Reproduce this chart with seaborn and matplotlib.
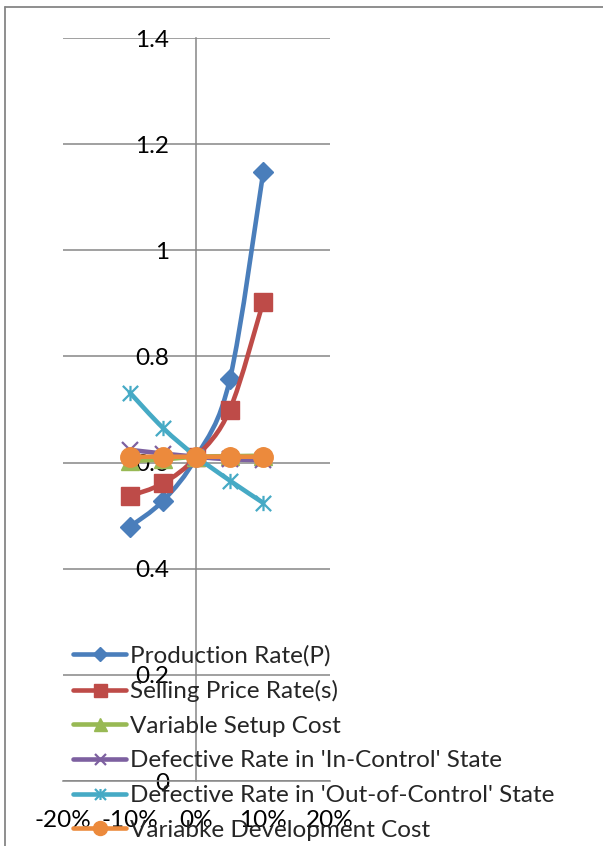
import numpy as np
import matplotlib
matplotlib.use("Agg")
import matplotlib.pyplot as plt
import seaborn as sns
from matplotlib.path import Path
from matplotlib.patches import PathPatch
from matplotlib.lines import Line2D

# Sensitivity of the objective to a change in each parameter
changes = [-0.10, -0.05, 0.0, 0.05, 0.10]
production_rate = [0.479, 0.528, 0.611, 0.757, 1.147]
selling_price = [0.537, 0.561, 0.611, 0.700, 0.903]
setup_cost = [0.603, 0.606, 0.611, 0.612, 0.613]
defect_in_control = [0.624, 0.617, 0.611, 0.606, 0.605]
defect_out_control = [0.732, 0.665, 0.611, 0.566, 0.524]
development_cost = [0.611, 0.611, 0.611, 0.611, 0.611]

series_names = [
    "Production Rate(P)",
    "Selling Price Rate(s)",
    "Variable Setup Cost",
    "Defective Rate in 'In-Control' State",
    "Defective Rate in 'Out-of-Control' State",
    "Variabke Development Cost",
]
series_values = [production_rate, selling_price, setup_cost,
                 defect_in_control, defect_out_control, development_cost]

x_ticks = [-0.20, -0.10, 0.0, 0.10, 0.20]
x_tick_labels = ["-20%", "-10%", "0%", "10%", "20%"]
y_ticks = [0, 0.2, 0.4, 0.6, 0.8, 1.0, 1.2, 1.4]
y_tick_labels = ["0", "0.2", "0.4", "0.6", "0.8", "1", "1.2", "1.4"]

# Excel-like styling
colors = ["#4A7EBB", "#BE4B48", "#98B954", "#7D60A0", "#46AAC5", "#EC8A3C"]
star = Path([(0, -1), (0, 1), (-1, -1), (1, 1), (-1, 1), (1, -1)],
            [Path.MOVETO, Path.LINETO, Path.MOVETO, Path.LINETO,
             Path.MOVETO, Path.LINETO])
markers = ["D", "s", "^", "x", star, "o"]
marker_sizes = [10.5, 13, 13, 11, 11, 14]
edge_widths = [1, 1, 1, 1.6, 1.6, 1]

GRID = "#868686"
FONT = "Lato"
FS = 17.5

sns.set_theme(style="white")
plt.rcParams["font.family"] = [FONT, "DejaVu Sans"]

W, H = 603, 846
fig = plt.figure(figsize=(W / 100, H / 100), dpi=100)
ax = fig.add_axes([63 / W, 1 - 781 / H, (330 - 63) / W, (781 - 38) / H])


def smooth_path(xs, ys):
    """Catmull-Rom style Bezier path through the points (Excel smoothed line)."""
    pts = np.column_stack([xs, ys]).astype(float)
    n = len(pts)
    verts = [pts[0]]
    codes = [Path.MOVETO]
    for i in range(n - 1):
        p0 = pts[max(i - 1, 0)]
        p1 = pts[i]
        p2 = pts[i + 1]
        p3 = pts[min(i + 2, n - 1)]
        verts += [p1 + (p2 - p0) / 6, p2 - (p3 - p1) / 6, p2]
        codes += [Path.CURVE4] * 3
    return Path(verts, codes)


handles = []
for k, (name, vals) in enumerate(zip(series_names, series_values)):
    c = colors[k]
    ax.add_patch(PathPatch(smooth_path(changes, vals), fill=False, edgecolor=c,
                           lw=3.3, capstyle="round", joinstyle="round",
                           zorder=3 + 2 * k))
    sns.lineplot(x=changes, y=vals, ax=ax, color=c, linestyle="",
                 marker=markers[k], markersize=marker_sizes[k],
                 markeredgecolor=c, markerfacecolor=c,
                 markeredgewidth=edge_widths[k], zorder=4 + 2 * k)
    handles.append(Line2D([], [], color=c, lw=3.3, marker=markers[k],
                          markersize=marker_sizes[k] * 0.72,
                          markeredgecolor=c, markerfacecolor=c,
                          markeredgewidth=edge_widths[k],
                          solid_capstyle="round"))

ax.set_xlim(-0.2, 0.2)
ax.set_ylim(0, 1.4)
ax.set_xticks(x_ticks, x_tick_labels)
ax.set_yticks(y_ticks, y_tick_labels)
ax.set_xlabel("")
ax.set_ylabel("")

ax.yaxis.grid(True, color=GRID, lw=1.1)
ax.xaxis.grid(False)
ax.set_axisbelow(True)

for side in ("top", "right"):
    ax.spines[side].set_visible(False)
ax.spines["left"].set_position(("data", 0))
for side in ("left", "bottom"):
    ax.spines[side].set_color(GRID)
    ax.spines[side].set_linewidth(1.1)

ax.tick_params(axis="y", length=0, pad=19.5, labelsize=FS, labelcolor="black")
ax.tick_params(axis="x", length=5, width=1.1, color=GRID, direction="out",
               pad=16, labelsize=FS, labelcolor="black")

leg = ax.legend(handles, series_names, loc="upper left",
                bbox_to_anchor=(73 / W, 1 - 645 / H),
                bbox_transform=fig.transFigure, frameon=False, fontsize=FS,
                handlelength=2.2, handletextpad=0.15, labelspacing=0.56,
                borderpad=0, borderaxespad=0)
leg.set_zorder(20)

# Outer chart-area border (top and left edges visible)
fig.add_artist(Line2D([5 / W, 1.0], [1 - 7 / H, 1 - 7 / H],
                      transform=fig.transFigure, color=GRID, lw=1.3))
fig.add_artist(Line2D([5 / W, 5 / W], [0, 1 - 7 / H],
                      transform=fig.transFigure, color=GRID, lw=1.3))

fig.savefig("out.png", dpi=100, facecolor="white")
